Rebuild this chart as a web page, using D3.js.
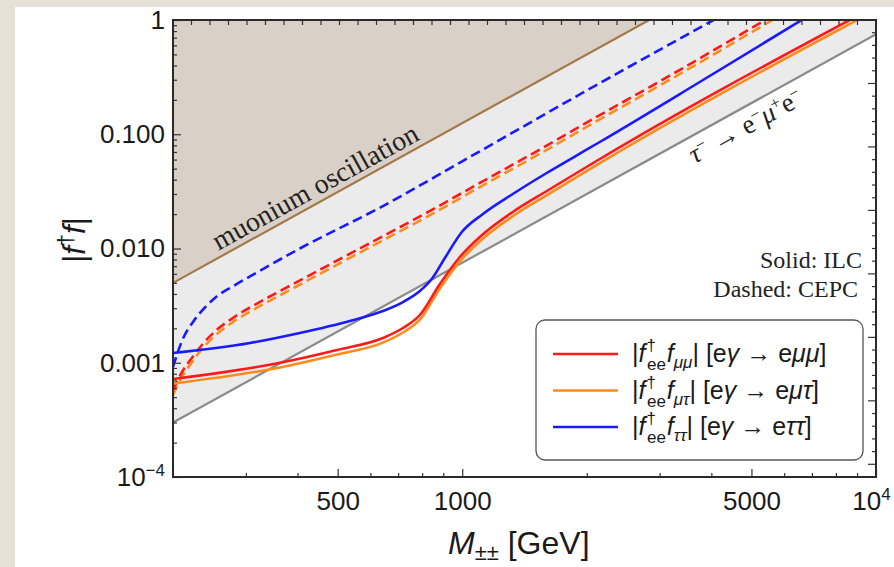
<!DOCTYPE html>
<html>
<head>
<meta charset="utf-8">
<script src="https://cdn.jsdelivr.net/npm/d3@7"></script>
<style>
  body { margin: 0; background: #e6e0d6; }
  svg { display: block; }
</style>
</head>
<body>
<svg id="chart"></svg>
<script>
var W = 894, H = 567;

// axis ticks
var xMajor = [500, 1000, 5000, 10000];
var xLabels = ["500", "1000", "5000", "10^4"];
var xMinor = [200, 300, 400, 600, 700, 800, 900, 2000, 3000, 4000, 6000, 7000, 8000, 9000];
var yMajor = [1e-4, 1e-3, 1e-2, 1e-1, 1];
var yLabels = ["10^−4", "0.001", "0.010", "0.100", "1"];

// bounds [M, |f f|]
var muoniumBound = [[200, 0.005], [2830, 1]];
var tauBound = [[200, 3e-4], [10000, 0.75]];

// ILC (solid)
var ilcMuMuM = [200, 363, 498, 643, 719, 790, 883, 987, 1103, 1325, 1601, 1924, 2150, 8636];
var ilcMuMu = [0.000721, 0.001, 0.001294, 0.001647, 0.002015, 0.002618, 0.004891, 0.008425, 0.01261, 0.02087, 0.03186, 0.04769, 0.06073, 1];
var ilcMuTauM = [200, 363, 498, 643, 719, 790, 883, 987, 1103, 1325, 1601, 1924, 2150, 9000];
var ilcMuTau = [0.000658, 0.00091, 0.00118, 0.0015, 0.00184, 0.00238, 0.00447, 0.00772, 0.01158, 0.0192, 0.0293, 0.0439, 0.0559, 1];
var ilcTauTauM = [200, 307, 405, 535, 643, 719, 790, 844, 908, 998, 1122, 1325, 1600, 1845, 2150, 3750, 6613];
var ilcTauTau = [0.001217, 0.001489, 0.001821, 0.002319, 0.002838, 0.003401, 0.004246, 0.005408, 0.008256, 0.01395, 0.02004, 0.02999, 0.04579, 0.06195, 0.08554, 0.2867, 1];

// CEPC (dashed)
var cepcMuMuM = [200, 211, 224, 236, 255, 279, 324, 369, 487, 643, 849, 1103, 1540, 2150, 3000, 5400];
var cepcMuMu = [0.000577, 0.000847, 0.001146, 0.00146, 0.001935, 0.002464, 0.0034, 0.00438, 0.0075, 0.0128, 0.022, 0.0375, 0.0735, 0.147, 0.29, 1];
var cepcMuTauM = [200, 211, 224, 236, 255, 279, 324, 369, 487, 643, 849, 1103, 1540, 2150, 3000, 5620];
var cepcMuTau = [0.000525, 0.00077, 0.00105, 0.00134, 0.00178, 0.00227, 0.00313, 0.00403, 0.0069, 0.0118, 0.0202, 0.0345, 0.0676, 0.135, 0.267, 1];
var cepcTauTauM = [200, 211, 224, 240, 255, 280, 307, 405, 643, 1000, 2150, 4050];
var cepcTauTau = [0.00092, 0.0016, 0.0023, 0.0031, 0.0038, 0.0047, 0.0057, 0.0100, 0.0235, 0.058, 0.28, 1];

var legendNames = [
  [{t:"|"},{t:"f",i:1},{t:"†",s:17,dy:-11,dx:1},{t:"ee",s:17,dx:-9,dy:19},{t:"f",i:1,dy:-8,dx:1},{t:"μμ",i:1,s:17,dy:6},{t:"| [e",dy:-6},{t:"γ",i:1},{t:" → e"},{t:"μμ",i:1},{t:"]"}],
  [{t:"|"},{t:"f",i:1},{t:"†",s:17,dy:-11,dx:1},{t:"ee",s:17,dx:-9,dy:19},{t:"f",i:1,dy:-8,dx:1},{t:"μτ",i:1,s:17,dy:6},{t:"| [e",dy:-6},{t:"γ",i:1},{t:" → e"},{t:"μτ",i:1},{t:"]"}],
  [{t:"|"},{t:"f",i:1},{t:"†",s:17,dy:-11,dx:1},{t:"ee",s:17,dx:-9,dy:19},{t:"f",i:1,dy:-8,dx:1},{t:"ττ",i:1,s:17,dy:6},{t:"| [e",dy:-6},{t:"γ",i:1},{t:" → e"},{t:"ττ",i:1},{t:"]"}]
];
var colors = ["#ff1a1a", "#ff8c1a", "#1a1aff"];

var svg = d3.select("#chart").attr("width", W).attr("height", H);

// white panel
svg.append("rect").attr("x", 15).attr("y", 7).attr("width", W - 15).attr("height", H - 7).attr("fill", "white");

var x = d3.scaleLog().domain([200, 10000]).range([173, 876]);
var y = d3.scaleLog().domain([1e-4, 1]).range([477, 20]);

function rich(sel, segs) {
  segs.forEach(function(s) {
    var t = sel.append("tspan").text(s.t);
    if (s.i) t.attr("font-style", "italic");
    if (s.s) t.attr("font-size", s.s);
    if (s.dx) t.attr("dx", s.dx);
    if (s.dy) t.attr("dy", s.dy);
  });
}

// value on a straight log-log bound
function onBound(b, m) {
  var k = Math.log(b[1][1] / b[0][1]) / Math.log(b[1][0] / b[0][0]);
  return b[0][1] * Math.pow(m / b[0][0], k);
}

svg.append("clipPath").attr("id", "clip")
  .append("rect").attr("x", 173).attr("y", 20).attr("width", 876 - 173).attr("height", 477 - 20);

var plot = svg.append("g").attr("clip-path", "url(#clip)");

plot.append("rect").attr("x", 173).attr("y", 20).attr("width", 703).attr("height", 457).attr("fill", "#ebebeb");

// white area below tau bound
plot.append("path")
  .attr("d", d3.line()([
    [x(tauBound[0][0]), y(tauBound[0][1])],
    [x(tauBound[1][0]), y(tauBound[1][1])],
    [x(10000), y(1e-4)], [x(200), y(1e-4)]
  ]))
  .attr("fill", "white");

// tan area above muonium bound
plot.append("path")
  .attr("d", d3.line()([
    [x(muoniumBound[0][0]), y(muoniumBound[0][1])],
    [x(muoniumBound[1][0]), y(muoniumBound[1][1])],
    [x(200), y(1)]
  ]))
  .attr("fill", "#d9d1c7");

plot.append("line")
  .attr("x1", x(muoniumBound[0][0])).attr("y1", y(muoniumBound[0][1]))
  .attr("x2", x(muoniumBound[1][0])).attr("y2", y(muoniumBound[1][1]))
  .attr("stroke", "#a57848").attr("stroke-width", 2.2);

plot.append("line")
  .attr("x1", x(tauBound[0][0])).attr("y1", y(tauBound[0][1]))
  .attr("x2", x(tauBound[1][0])).attr("y2", y(tauBound[1][1]))
  .attr("stroke", "#8a8a8a").attr("stroke-width", 2.2);

var line = d3.line()
  .curve(d3.curveMonotoneX)
  .x(function(d) { return x(d[0]); })
  .y(function(d) { return y(d[1]); });

function zip(ms, vs) { return ms.map(function(m, i) { return [m, vs[i]]; }); }

var series = [
  {d: zip(cepcMuTauM, cepcMuTau), c: colors[1], dash: true},
  {d: zip(cepcMuMuM, cepcMuMu), c: colors[0], dash: true},
  {d: zip(cepcTauTauM, cepcTauTau), c: colors[2], dash: true},
  {d: zip(ilcMuTauM, ilcMuTau), c: colors[1], dash: false},
  {d: zip(ilcMuMuM, ilcMuMu), c: colors[0], dash: false},
  {d: zip(ilcTauTauM, ilcTauTau), c: colors[2], dash: false}
];

series.forEach(function(s) {
  plot.append("path")
    .attr("d", line(s.d))
    .attr("fill", "none")
    .attr("stroke", s.c)
    .attr("stroke-width", 2.6)
    .attr("stroke-dasharray", s.dash ? "10,5" : null);
});

// rotated annotations along the bounds
var ang = Math.atan2(y(muoniumBound[1][1]) - y(muoniumBound[0][1]), x(muoniumBound[1][0]) - x(muoniumBound[0][0])) * 180 / Math.PI;

svg.append("text")
  .attr("transform", "translate(" + x(262) + "," + y(onBound(muoniumBound, 262)) + ") rotate(" + ang + ")")
  .attr("y", -6)
  .attr("font-family", "'Liberation Serif', 'DejaVu Serif', serif")
  .attr("font-size", 28)
  .attr("fill", "#222")
  .text("muonium oscillation");

var tauLab = svg.append("text")
  .attr("transform", "translate(" + x(3400) + "," + y(onBound(tauBound, 3400)) + ") rotate(" + ang + ")")
  .attr("y", 26)
  .attr("font-family", "'Liberation Serif', 'DejaVu Serif', serif")
  .attr("font-size", 27)
  .attr("fill", "#222");
rich(tauLab, [{t:"τ",i:1},{t:"−",s:17,dy:-9},{t:" → e",dy:9},{t:"−",s:17,dy:-9},{t:"μ",i:1,dy:9},{t:"+",s:17,dy:-9},{t:"e",dy:9},{t:"−",s:17,dy:-9}]);

svg.append("text").attr("x", 862).attr("y", 268).attr("text-anchor", "end")
  .attr("font-family", "'Liberation Serif', serif").attr("font-size", 24).attr("fill", "#222")
  .text("Solid: ILC");
svg.append("text").attr("x", 858).attr("y", 297).attr("text-anchor", "end")
  .attr("font-family", "'Liberation Serif', serif").attr("font-size", 24).attr("fill", "#222")
  .text("Dashed: CEPC");

// axes
function supLabel(sel, lab) {
  sel.text(null);
  var p = lab.split("^");
  sel.append("tspan").text(p[0]);
  if (p[1]) sel.append("tspan").attr("font-size", 17).attr("dy", -10).text(p[1]);
}

var ax = svg.append("g").attr("font-family", "'Liberation Sans', Arial, sans-serif");

var xAxis = ax.append("g").attr("transform", "translate(0,477)")
  .call(d3.axisBottom(x).tickValues(xMajor).tickSize(-8).tickPadding(15).tickFormat(function(d, i) { return xLabels[i]; }));
ax.append("g").attr("transform", "translate(0,477)")
  .call(d3.axisBottom(x).tickValues(xMinor).tickSize(-4).tickFormat(""));
var yAxis = ax.append("g").attr("transform", "translate(173,0)")
  .call(d3.axisLeft(y).tickValues(yMajor).tickSize(-8).tickPadding(8).tickFormat(function(d, i) { return yLabels[i]; }));
var yMinor = [];
[1e-4, 1e-3, 1e-2, 1e-1].forEach(function(b) { for (var k = 2; k < 10; k++) yMinor.push(b * k); });
ax.append("g").attr("transform", "translate(173,0)")
  .call(d3.axisLeft(y).tickValues(yMinor).tickSize(-4).tickFormat(""));

ax.selectAll(".domain").remove();
ax.selectAll(".tick line").attr("stroke", "#333").attr("stroke-width", 1.2);
ax.selectAll(".tick text").attr("font-size", 26).attr("fill", "#1a1a1a");
xAxis.selectAll(".tick text").each(function(d, i) { supLabel(d3.select(this), xLabels[i]); });
yAxis.selectAll(".tick text").each(function(d, i) { supLabel(d3.select(this), yLabels[i]); });
// keep the last x label inside the window
xAxis.selectAll(".tick text").filter(function(d) { return d === 10000; }).attr("dx", -5);

// top and right frame ticks
var topScale = d3.scaleLinear().domain([0, 38]).range([173, 876]);
svg.append("g").selectAll("line").data(d3.range(1, 38)).join("line")
  .attr("x1", function(d) { return topScale(d); }).attr("x2", function(d) { return topScale(d); })
  .attr("y1", 20).attr("y2", 25).attr("stroke", "#333").attr("stroke-width", 1.2);
var rightScale = d3.scaleLinear().domain([0, 36]).range([20, 477]);
svg.append("g").selectAll("line").data(d3.range(1, 36)).join("line")
  .attr("y1", function(d) { return rightScale(d); }).attr("y2", function(d) { return rightScale(d); })
  .attr("x1", 876).attr("x2", function(d) { return d % 5 == 0 ? 868 : 872; })
  .attr("stroke", "#333").attr("stroke-width", 1.2);

svg.append("rect").attr("x", 173).attr("y", 20).attr("width", 703).attr("height", 457)
  .attr("fill", "none").attr("stroke", "#2a2a2a").attr("stroke-width", 2);

// axis titles
var xt = svg.append("text").attr("x", 448).attr("y", 554)
  .attr("font-family", "'Liberation Sans', Arial, sans-serif").attr("font-size", 32).attr("fill", "#1a1a1a");
rich(xt, [{t:"M",i:1},{t:"±±",s:22,dy:6},{t:" [GeV]",dy:-6}]);

var yt = svg.append("text").attr("transform", "translate(85,240) rotate(-90)")
  .attr("text-anchor", "middle")
  .attr("font-family", "'Liberation Sans', Arial, sans-serif").attr("font-size", 31).attr("fill", "#1a1a1a");
rich(yt, [{t:"|"},{t:"f",i:1},{t:"†",s:22,dy:-12},{t:"f",i:1,dy:12},{t:"|"}]);

// legend
var lg = svg.append("g");
lg.append("rect").attr("x", 536).attr("y", 320).attr("width", 327).attr("height", 140).attr("rx", 9)
  .attr("fill", "white").attr("stroke", "#555").attr("stroke-width", 1.3);
legendNames.forEach(function(n, i) {
  var ly = 354 + i * 36.5;
  lg.append("line").attr("x1", 553).attr("x2", 618).attr("y1", ly).attr("y2", ly)
    .attr("stroke", colors[i]).attr("stroke-width", 2.6);
  var t = lg.append("text").attr("x", 632).attr("y", ly + 8)
    .attr("font-family", "'Liberation Sans', Arial, sans-serif").attr("font-size", 25).attr("fill", "#1a1a1a");
  rich(t, n);
});
</script>
</body>
</html>
